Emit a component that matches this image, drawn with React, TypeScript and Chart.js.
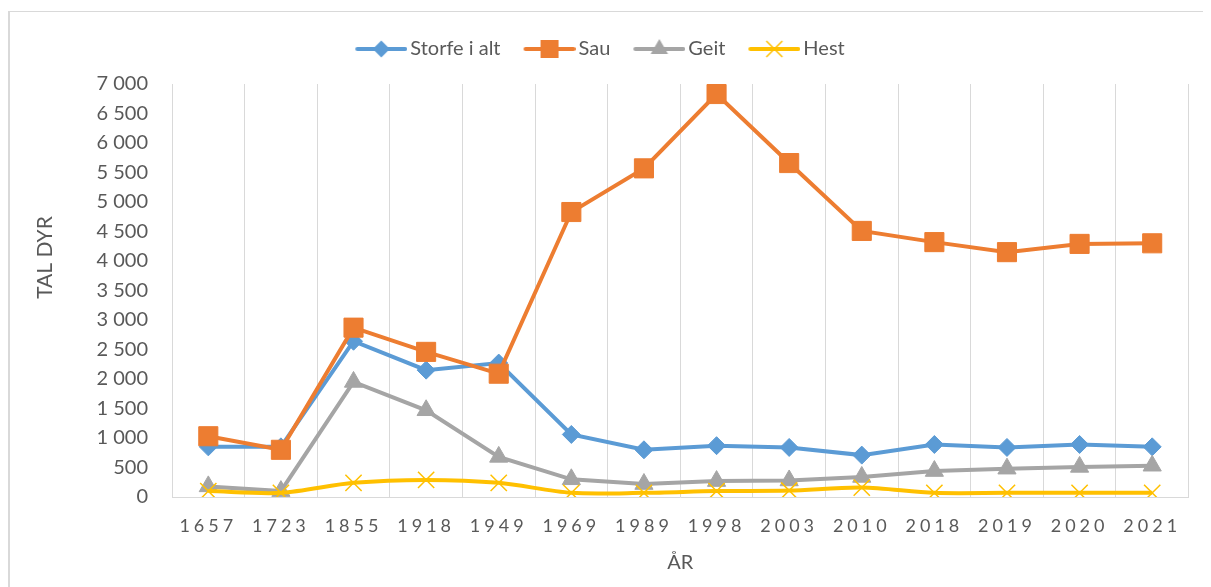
import React, { useEffect, useRef } from 'react';
import { Chart, registerables } from 'chart.js';

Chart.register(...registerables);

const years = ['1657', '1723', '1855', '1918', '1949', '1969', '1989', '1998', '2003', '2010', '2018', '2019', '2020', '2021'];
const storfe = [850, 850, 2640, 2150, 2270, 1060, 800, 870, 840, 710, 890, 840, 890, 850];
const sau = [1030, 800, 2870, 2460, 2090, 4830, 5570, 6830, 5660, 4510, 4320, 4150, 4290, 4300];
const geit = [180, 100, 1950, 1470, 680, 300, 220, 270, 280, 340, 440, 480, 510, 530];
const hest = [100, 70, 240, 290, 240, 70, 70, 100, 110, 160, 70, 70, 70, 70];

const seriesNames = ['Storfe i alt', 'Sau', 'Geit', 'Hest'];
const seriesColors = ['#5B9BD5', '#ED7D31', '#A5A5A5', '#FFC000'];
const yTitle = 'TAL DYR';
const xTitle = 'ÅR';

const FONT = 'Lato';
const TEXT = '#595959';
const GRID = '#d9d9d9';

const CANVAS_W = 1193;
const CANVAS_H = 575;
const PLOT_LEFT = 162;
const PLOT_RIGHT = 1179;
const PLOT_BOTTOM = 485;
const PAD_LEFT = -6;
const LINE_W = 4;
const Y_TITLE_SIZE = 21;
const X_TITLE_SIZE = 20;

function formatTick(v: number): string {
  if (v >= 1000) {
    return `${Math.floor(v / 1000)} ${String(v % 1000).padStart(3, '0')}`;
  }
  return String(v);
}

// legend symbol: line + marker; visible part sits at offset 14..66 of a 66px-wide image
function legendIcon(kind: string, color: string): HTMLCanvasElement {
  const c = document.createElement('canvas');
  c.width = 66;
  c.height = 22;
  const ctx = c.getContext('2d')!;
  const x0 = 14;
  const cx = x0 + 26;
  const cy = 11;
  ctx.strokeStyle = color;
  ctx.fillStyle = color;
  ctx.lineWidth = LINE_W;
  ctx.lineCap = 'round';
  ctx.beginPath();
  ctx.moveTo(x0 + 2, cy);
  ctx.lineTo(x0 + 50, cy);
  ctx.stroke();
  ctx.beginPath();
  if (kind === 'diamond') {
    ctx.moveTo(cx, cy - 8.5);
    ctx.lineTo(cx + 8.5, cy);
    ctx.lineTo(cx, cy + 8.5);
    ctx.lineTo(cx - 8.5, cy);
    ctx.closePath();
    ctx.fill();
  } else if (kind === 'square') {
    ctx.fillRect(cx - 9, cy - 9, 18, 18);
  } else if (kind === 'triangle') {
    ctx.moveTo(cx, cy - 10);
    ctx.lineTo(cx + 8.7, cy + 5);
    ctx.lineTo(cx - 8.7, cy + 5);
    ctx.closePath();
    ctx.fill();
  } else {
    ctx.lineWidth = 1.5;
    ctx.lineCap = 'butt';
    ctx.moveTo(cx - 8, cy - 8);
    ctx.lineTo(cx + 8, cy + 8);
    ctx.moveTo(cx + 8, cy - 8);
    ctx.lineTo(cx - 8, cy + 8);
    ctx.stroke();
  }
  return c;
}

const tweaks = {
  id: 'tweaks',
  beforeLayout(chart: any) {
    const lg = chart.legend;
    if (lg && !lg._patched) {
      const fit = lg.fit;
      lg.fit = function () {
        fit.call(this);
        this.height += 15;
      };
      lg._patched = true;
    }
  },
  beforeDraw(chart: any) {
    const sx = chart.scales.x;
    if (sx && !sx._patched) {
      const orig = sx.drawLabels;
      sx.drawLabels = function (area: any) {
        const ctx = this.ctx;
        ctx.save();
        (ctx as any).letterSpacing = '4px';
        orig.call(this, area);
        ctx.restore();
      };
      sx._patched = true;
    }
    const sy = chart.scales.y;
    if (sy && !sy._patched) {
      const origT = sy.drawTitle;
      sy.drawTitle = function () {
        const ctx = this.ctx;
        ctx.save();
        ctx.translate(0, -33);
        origT.call(this);
        ctx.restore();
      };
      sy._patched = true;
    }
  },
};

export default function App() {
  const ref = useRef<HTMLCanvasElement | null>(null);

  useEffect(() => {
    document.body.style.overflow = 'hidden';
    const canvas = ref.current;
    if (!canvas) return;
    const kinds = ['diamond', 'square', 'triangle', 'cross'];
    const icons = kinds.map((k, i) => legendIcon(k, seriesColors[i]));

    const chart = new Chart(canvas, {
      type: 'line',
      data: {
        labels: years,
        datasets: [
          {
            label: seriesNames[0],
            data: storfe,
            borderColor: seriesColors[0],
            backgroundColor: seriesColors[0],
            borderWidth: LINE_W,
            pointStyle: 'rectRot',
            pointRadius: 9,
            pointBorderWidth: 1,
            tension: 0,
            order: 4,
          },
          {
            label: seriesNames[1],
            data: sau,
            borderColor: seriesColors[1],
            backgroundColor: seriesColors[1],
            borderWidth: LINE_W,
            pointStyle: 'rect',
            pointRadius: 13.5,
            pointBorderWidth: 1,
            tension: 0,
            order: 3,
          },
          {
            label: seriesNames[2],
            data: geit,
            borderColor: seriesColors[2],
            backgroundColor: seriesColors[2],
            borderWidth: LINE_W,
            pointStyle: 'triangle',
            pointRadius: 10.5,
            pointBorderWidth: 1,
            tension: 0,
            order: 2,
          },
          {
            label: seriesNames[3],
            data: hest,
            borderColor: seriesColors[3],
            backgroundColor: seriesColors[3],
            borderWidth: LINE_W,
            pointStyle: 'crossRot',
            pointRadius: 11.5,
            pointBorderWidth: 1.5,
            tension: 0.3,
            order: 1,
          },
        ],
      },
      options: {
        responsive: false,
        animation: false,
        events: [],
        layout: { padding: { left: PAD_LEFT, right: CANVAS_W - PLOT_RIGHT, top: 11, bottom: 0 } },
        plugins: {
          tooltip: { enabled: false },
          legend: {
            position: 'top',
            align: 'center',
            labels: {
              usePointStyle: true,
              pointStyleWidth: 52,
              padding: 16,
              color: TEXT,
              font: { family: FONT, size: 20 },
              generateLabels: (c: any) =>
                c.data.datasets.map((ds: any, i: number) => ({
                  text: ds.label,
                  pointStyle: icons[i],
                  fillStyle: 'transparent',
                  strokeStyle: 'transparent',
                  lineWidth: 0,
                  hidden: false,
                  datasetIndex: i,
                  fontColor: TEXT,
                })),
            },
          },
        },
        scales: {
          x: {
            type: 'category',
            offset: true,
            grid: {
              display: true,
              offset: true,
              color: GRID,
              lineWidth: 1,
              drawTicks: false,
            },
            border: { display: true, color: GRID, width: 1 },
            ticks: {
              color: TEXT,
              font: { family: FONT, size: 18 },
              padding: 18,
              maxRotation: 0,
              autoSkip: false,
            },
            title: {
              display: true,
              text: xTitle,
              color: TEXT,
              font: { family: FONT, size: X_TITLE_SIZE },
              padding: { top: 0, bottom: 24 - X_TITLE_SIZE * 0.6 },
            },
            afterFit: (scale: any) => {
              scale.height = CANVAS_H - PLOT_BOTTOM;
            },
          },
          y: {
            type: 'linear',
            min: 0,
            max: 7000,
            grid: { display: false, drawTicks: false },
            border: { display: false },
            ticks: {
              stepSize: 500,
              color: TEXT,
              font: { family: FONT, size: 20 },
              padding: 24,
              callback: (v: any) => formatTick(Number(v)),
            },
            title: {
              display: true,
              text: yTitle,
              color: TEXT,
              font: { family: FONT, size: Y_TITLE_SIZE },
              padding: { top: 35 - PAD_LEFT - Y_TITLE_SIZE * 0.6, bottom: 0 },
            },
            afterFit: (scale: any) => {
              scale.width = PLOT_LEFT - PAD_LEFT;
            },
          },
        },
      },
      plugins: [tweaks],
    } as any);

    return () => chart.destroy();
  }, []);

  return (
    <div style={{ paddingTop: 3 }}>
      <div
        style={{
          borderLeft: '2px solid #d9d9d9',
          borderTop: '1px solid #d9d9d9',
          width: 1195,
          height: 576,
          boxSizing: 'border-box',
        }}
      >
        <canvas ref={ref} width={CANVAS_W} height={CANVAS_H} style={{ display: 'block' }} />
      </div>
    </div>
  );
}
